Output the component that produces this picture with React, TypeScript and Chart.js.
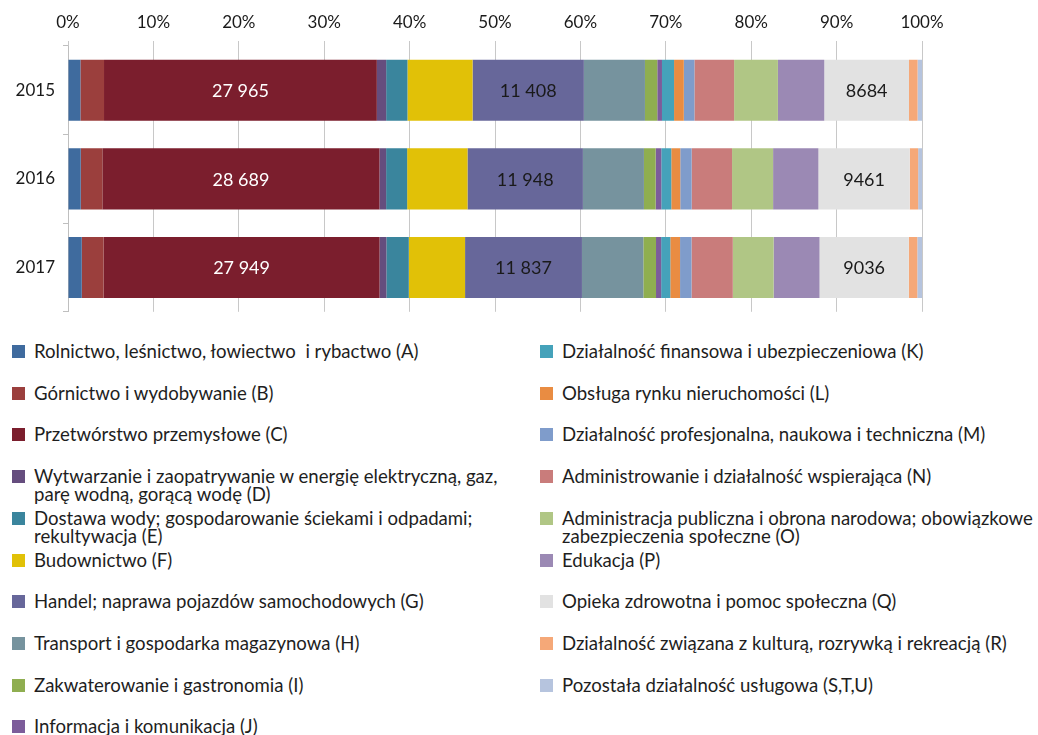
import React, { useEffect, useRef } from "react";
import { Chart, registerables } from "chart.js";

Chart.register(...registerables);

const years = ["2015", "2016", "2017"];

const sectionNames = [
  "Rolnictwo, leśnictwo, łowiectwo  i rybactwo (A)",
  "Górnictwo i wydobywanie (B)",
  "Przetwórstwo przemysłowe (C)",
  "Wytwarzanie i zaopatrywanie w energię elektryczną, gaz, parę wodną, gorącą wodę (D)",
  "Dostawa wody; gospodarowanie ściekami i odpadami; rekultywacja (E)",
  "Budownictwo (F)",
  "Handel; naprawa pojazdów samochodowych (G)",
  "Transport i gospodarka magazynowa (H)",
  "Zakwaterowanie i gastronomia (I)",
  "Informacja i komunikacja (J)",
  "Działalność finansowa i ubezpieczeniowa (K)",
  "Obsługa rynku nieruchomości (L)",
  "Działalność profesjonalna, naukowa i techniczna (M)",
  "Administrowanie i działalność wspierająca (N)",
  "Administracja publiczna i obrona narodowa; obowiązkowe zabezpieczenia społeczne (O)",
  "Edukacja (P)",
  "Opieka zdrowotna i pomoc społeczna (Q)",
  "Działalność związana z kulturą, rozrywką i rekreacją (R)",
  "Pozostała działalność usługowa (S,T,U)",
];

const sectionColors = [
  "#3f6b9e", "#9b3f3d", "#7b1e2d", "#654d7e", "#3a859d",
  "#e1c107", "#67679a", "#76939e", "#8fae50", "#7c5c9a",
  "#45a2ba", "#e98c42", "#7f9ccb", "#c97c7b", "#b0c685",
  "#9b89b4", "#e2e2e2", "#f5a878", "#b6c4de",
];

const values2015 = [1272, 2420, 27965, 956, 2184, 6674, 11408, 6262, 1263, 482, 1237, 1000, 1087, 4069, 4490, 4753, 8684, 877, 456];
const values2016 = [1319, 2239, 28689, 690, 2177, 6248, 11948, 6319, 1212, 584, 1035, 929, 1177, 4186, 4248, 4690, 9461, 867, 400];
const values2017 = [1394, 2208, 27949, 693, 2269, 5698, 11837, 6218, 1282, 520, 927, 987, 1160, 4183, 4131, 4650, 9036, 866, 476];

const labelledSections = [2, 6, 16];
const labelColors = ["#ffffff", "#1a1a1a", "#1a1a1a"];

const percentTicks = [0, 10, 20, 30, 40, 50, 60, 70, 80, 90, 100];

const FONT = "Lato, 'Open Sans', sans-serif";

function formatValue(n: number): string {
  if (n >= 10000) return String(n).replace(/\B(?=(\d{3})+(?!\d))/g, " ");
  return String(n);
}

export default function App() {
  const canvasRef = useRef<HTMLCanvasElement>(null);

  useEffect(() => {
    const yearValues = [values2015, values2016, values2017];
    const totals = yearValues.map((arr) => arr.reduce((a, b) => a + b, 0));

    const datasets = sectionNames.map((name, i) => ({
      label: name,
      data: yearValues.map((arr, y) => (arr[i] / totals[y]) * 100),
      backgroundColor: sectionColors[i],
      borderWidth: 0,
      barPercentage: 0.69,
      categoryPercentage: 1,
    }));

    const labelPlugin = {
      id: "segmentLabels",
      afterDatasetsDraw(chart: any) {
        const ctx = chart.ctx;
        ctx.save();
        ctx.font = `18px ${FONT}`;
        ctx.textAlign = "center";
        ctx.textBaseline = "middle";
        labelledSections.forEach((si, k) => {
          const meta = chart.getDatasetMeta(si);
          meta.data.forEach((el: any, yi: number) => {
            const cx = (el.x + el.base) / 2;
            ctx.fillStyle = labelColors[k];
            ctx.fillText(formatValue(yearValues[yi][si]), cx, el.y + 1);
          });
        });
        ctx.restore();
      },
    };

    const chart = new Chart(canvasRef.current!, {
      type: "bar",
      data: { labels: years, datasets },
      plugins: [labelPlugin],
      options: {
        indexAxis: "y",
        animation: false,
        responsive: true,
        maintainAspectRatio: false,
        layout: { padding: { left: 0, right: 116, top: 0, bottom: 10 } },
        plugins: {
          legend: { display: false },
          tooltip: { enabled: false },
        },
        scales: {
          x: {
            position: "top",
            stacked: true,
            min: 0,
            max: 100,
            afterBuildTicks: (scale: any) => {
              scale.ticks = percentTicks.map((v) => ({ value: v }));
            },
            afterFit: (scale: any) => {
              scale.height = 46;
            },
            ticks: {
              callback: (v: any) => `${v}%`,
              font: { family: FONT, size: 17 },
              color: "#1a1a1a",
              padding: 8,
              maxRotation: 0,
            },
            grid: { color: "#c8c8c8", tickLength: 5, lineWidth: 1 },
            border: { display: false },
          },
          y: {
            stacked: true,
            afterFit: (scale: any) => {
              scale.width = 68;
            },
            ticks: {
              font: { family: FONT, size: 17 },
              color: "#1a1a1a",
              padding: 8,
            },
            grid: {
              display: true,
              drawOnChartArea: false,
              tickLength: 5,
              color: "#bfbfbf",
              offset: true,
            },
            border: { display: true, color: "#bfbfbf" },
          },
        },
      } as any,
    });

    return () => chart.destroy();
  }, []);

  const rowH = 41.7;
  const leftCount = 10;

  return (
    <div style={{ position: "absolute", left: 0, top: 0, width: 1038, height: 735, background: "#fff", fontFamily: FONT, overflow: "hidden" }}>
      <div style={{ position: "absolute", left: 0, top: 0, width: 1038, height: 330 }}>
        <canvas ref={canvasRef} />
      </div>
      {sectionNames.map((name, i) => {
        const col = i < leftCount ? 0 : 1;
        const row = col === 0 ? i : i - leftCount;
        const left = col === 0 ? 12 : 540;
        const width = col === 0 ? 512 : 498;
        const top = 342 + row * rowH;
        return (
          <div
            key={name}
            style={{
              position: "absolute",
              left,
              top,
              width,
              display: "flex",
              alignItems: "flex-start",
              fontSize: 18.6,
              lineHeight: "18px",
              color: "#1e1e1e",
            }}
          >
            <span
              style={{
                display: "inline-block",
                width: 13,
                height: 13,
                marginTop: 3,
                marginRight: 9,
                flex: "0 0 13px",
                background: sectionColors[i],
              }}
            />
            <span style={{ whiteSpace: "pre-wrap" }}>{name}</span>
          </div>
        );
      })}
    </div>
  );
}
